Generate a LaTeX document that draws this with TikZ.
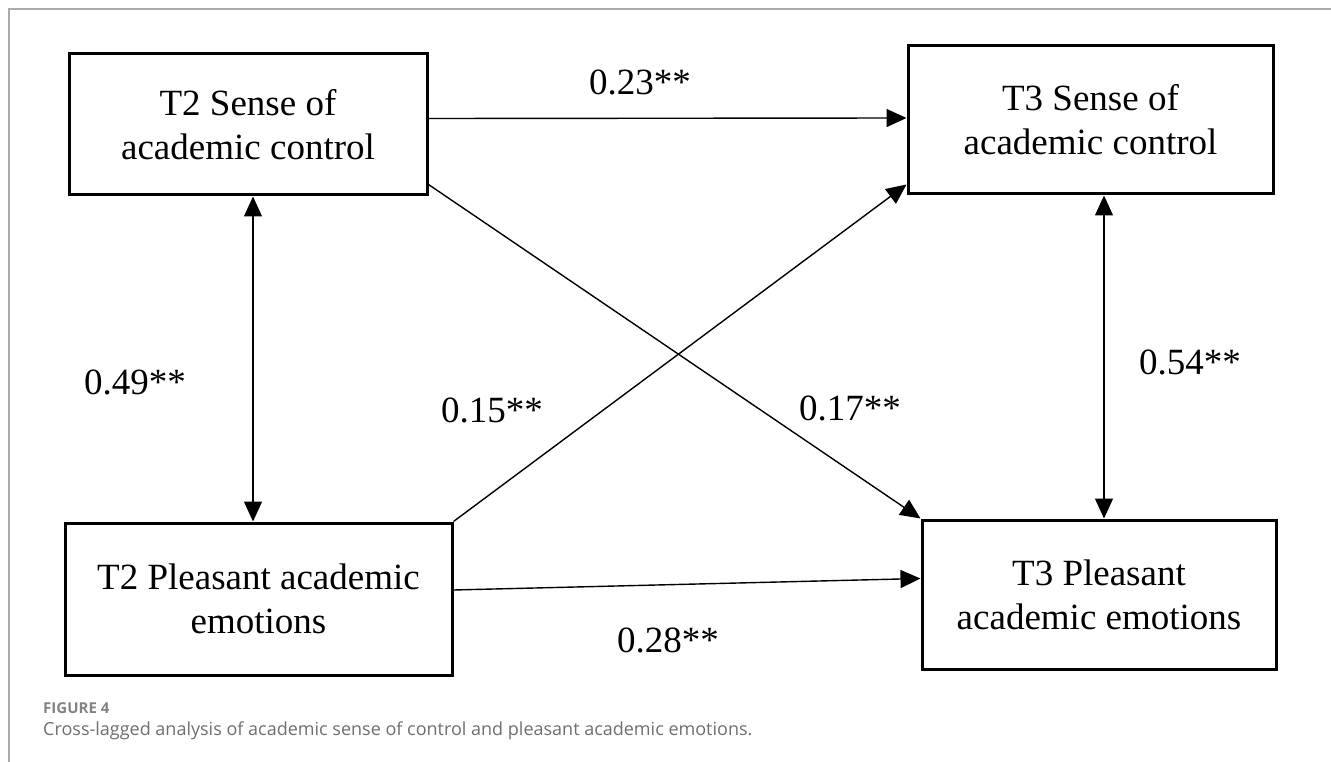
\documentclass[tikz,border=0pt]{standalone}
\usepackage{fontspec}
\setmainfont{Liberation Serif}
\newfontfamily\capfont{Open Sans}
\usetikzlibrary{arrows.meta,calc}
\definecolor{framegray}{RGB}{170,170,170}
\definecolor{capgray}{RGB}{110,110,110}
\definecolor{figgray}{RGB}{130,130,130}
\tikzset{
  varbox/.style={draw=black, line width=3pt, fill=white, align=center,
    font=\fontsize{37}{44}\selectfont, inner sep=0pt},
  path/.style={line width=1.4pt, -{Triangle[length=20pt,width=18pt]}},
  cov/.style={line width=1.4pt, {Triangle[length=20pt,width=18pt]}-{Triangle[length=20pt,width=18pt]}},
  coef/.style={font=\fontsize{37}{44}\selectfont, inner sep=0pt}
}
\begin{document}
\begin{tikzpicture}[x=1pt,y=-1pt]
\useasboundingbox (0,0) rectangle (1331,762);
\draw[framegray, line width=1.2pt] (1331,9) -- (9,9) -- (9,762);
% boxes
\node[varbox, minimum width=358pt, minimum height=141pt] (t2sac) at (248,124.5) {T2 Sense of\\academic control};
\node[varbox, minimum width=365pt, minimum height=148pt] (t3sac) at (1090.5,120) {T3 Sense of\\academic control};
\node[varbox, minimum width=387pt, minimum height=152pt] (t2pae) at (258.5,599) {T2 Pleasant academic\\emotions};
\node[varbox, minimum width=354pt, minimum height=149pt] (t3pae) at (1099,594.5) {T3 Pleasant\\academic emotions};
% connectors
\draw[path] ($(t2sac.east)+(0,-6)$) -- ($(t3sac.west)+(0,-2)$);
\draw[cov] (t2sac.south -| 253,0) -- (t2pae.north -| 253,0);
\draw[cov] (t3sac.south -| 1104,0) -- (t3pae.north -| 1104,0);
\draw[path] (t2pae.north east) -- ($(t3sac.south west)+(0,-11)$);
\draw[path] ($(t2sac.south east)+(0,-12)$) -- (t3pae.north west);
\draw[path] ($(t2pae.east)+(0,-9)$) -- ($(t3pae.west)+(0,-16)$);
% labels
\node[coef] (l23) at (640,82) {0.23**};
\node[coef] (l49) at (135,382) {0.49**};
\node[coef] (l15) at (492,410) {0.15**};
\node[coef] (l17) at (850,408) {0.17**};
\node[coef] (l54) at (1190,362) {0.54**};
\node[coef] (l28) at (668,640) {0.28**};
% caption
\node[anchor=west, inner sep=0pt, text=figgray, font=\capfont\bfseries\fontsize{15}{17}\selectfont] (fig) at (43,708) {FIGURE 4};
\node[anchor=west, inner sep=0pt, text=capgray, font=\capfont\fontsize{18}{21}\selectfont] (cap) at (43,731) {Cross-lagged analysis of academic sense of control and pleasant academic emotions.};
\end{tikzpicture}
\end{document}
